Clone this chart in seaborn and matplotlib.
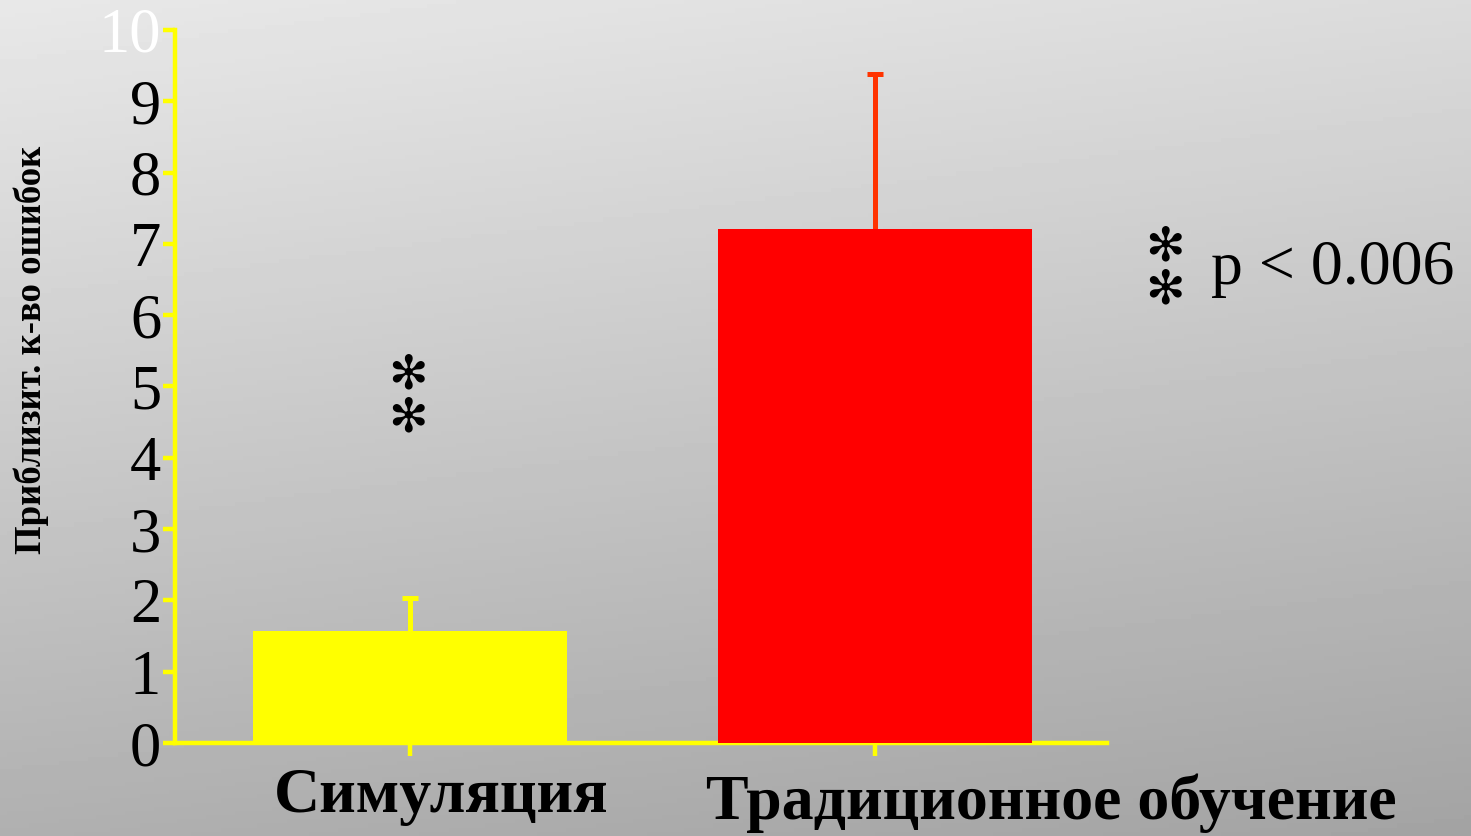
import numpy as np
import pandas as pd
import matplotlib
matplotlib.use("Agg")
import matplotlib.pyplot as plt
import seaborn as sns

groups = ["Симуляция", "Традиционное обучение"]
errors_mean = [1.57, 7.21]
errors_sd = [0.46, 2.17]
bar_colors = ["#FFFF00", "#FF0000"]
err_colors = ["#FFFF00", "#FF3300"]
y_ticks = [0, 1, 2, 3, 4, 5, 6, 7, 8, 9, 10]
y_label = "Приблизит. к-во ошибок"
p_text = "p < 0.006"

df = pd.DataFrame({"group": groups, "mean": errors_mean, "sd": errors_sd})

sns.set_style("white")
plt.rcParams["font.family"] = ["Liberation Serif", "DejaVu Sans"]
plt.rcParams["text.color"] = "black"

fig = plt.figure(figsize=(14.71, 8.36), dpi=100)

# grey gradient backdrop
bg = fig.add_axes([0, 0, 1, 1], zorder=-10)
yy, xx = np.mgrid[0:1:200j, 0:1:200j]
shade = 0.91 - 0.22 * yy - 0.05 * xx
bg.imshow(shade, cmap="gray", vmin=0, vmax=1, aspect="auto", extent=[0, 1, 1, 0])
bg.set_axis_off()

ax = fig.add_axes([0.119, 0.1112, 0.6336, 0.853])
ax.patch.set_alpha(0)

sns.barplot(data=df, x="group", y="mean", hue="group", palette=bar_colors,
            width=0.675, errorbar=None, legend=False, saturation=1,
            linewidth=0, edgecolor="none", ax=ax, zorder=3)

# one-sided (upward) error bars, no cap at the bar top
for i, row in df.iterrows():
    eb = ax.errorbar(i, row["mean"], yerr=[[0], [row["sd"]]], fmt="none",
                     ecolor=err_colors[i], elinewidth=3.6, capsize=6, capthick=3.6, zorder=2)
    eb[1][0].set_visible(False)

ax.set_xlim(-0.505, 1.499)
ax.set_ylim(0, 10)
ax.set_yticks(y_ticks)
ax.set_yticklabels([str(t) for t in y_ticks], fontsize=45)
ax.set_xticks([0, 1])
ax.set_xticklabels(["", ""])
ax.set_xlabel("")
ax.set_ylabel("")

for side in ["top", "right"]:
    ax.spines[side].set_visible(False)
for side in ["left", "bottom"]:
    ax.spines[side].set_color("#FFFF00")
    ax.spines[side].set_linewidth(3.2)
ax.tick_params(axis="both", colors="#FFFF00", length=9, width=3.2, direction="out",
               left=True, bottom=True)
ax.tick_params(axis="y", labelcolor="black", pad=1)
ax.get_yticklabels()[-1].set_color("white")

# category labels (offset from ticks as in the original slide)
xt = ax.get_xaxis_transform()
ax.text(0.067, -0.075, groups[0], transform=xt, ha="center", va="center",
        fontsize=46, fontweight="bold", color="black", clip_on=False)
ax.text(1.38, -0.085, groups[1], transform=xt, ha="center", va="center",
        fontsize=46, fontweight="bold", color="black", clip_on=False)

fig.text(0.021, 0.581, y_label, rotation=90, ha="center", va="center",
         fontsize=26.5, fontweight="bold", color="black")

star = "\u273B\n\u273B"
ax.text(-0.005, 4.85, star, ha="center", va="center", fontsize=34, color="black",
        family=["DejaVu Sans"], fontweight="bold", linespacing=0.95)
fig.text(0.792, 0.678, star, ha="center", va="center", fontsize=34, color="black",
         family=["DejaVu Sans"], fontweight="bold", linespacing=0.95)
fig.text(0.823, 0.678, p_text, ha="left", va="center", fontsize=46, color="black")

fig.savefig("out.png", dpi=100)
